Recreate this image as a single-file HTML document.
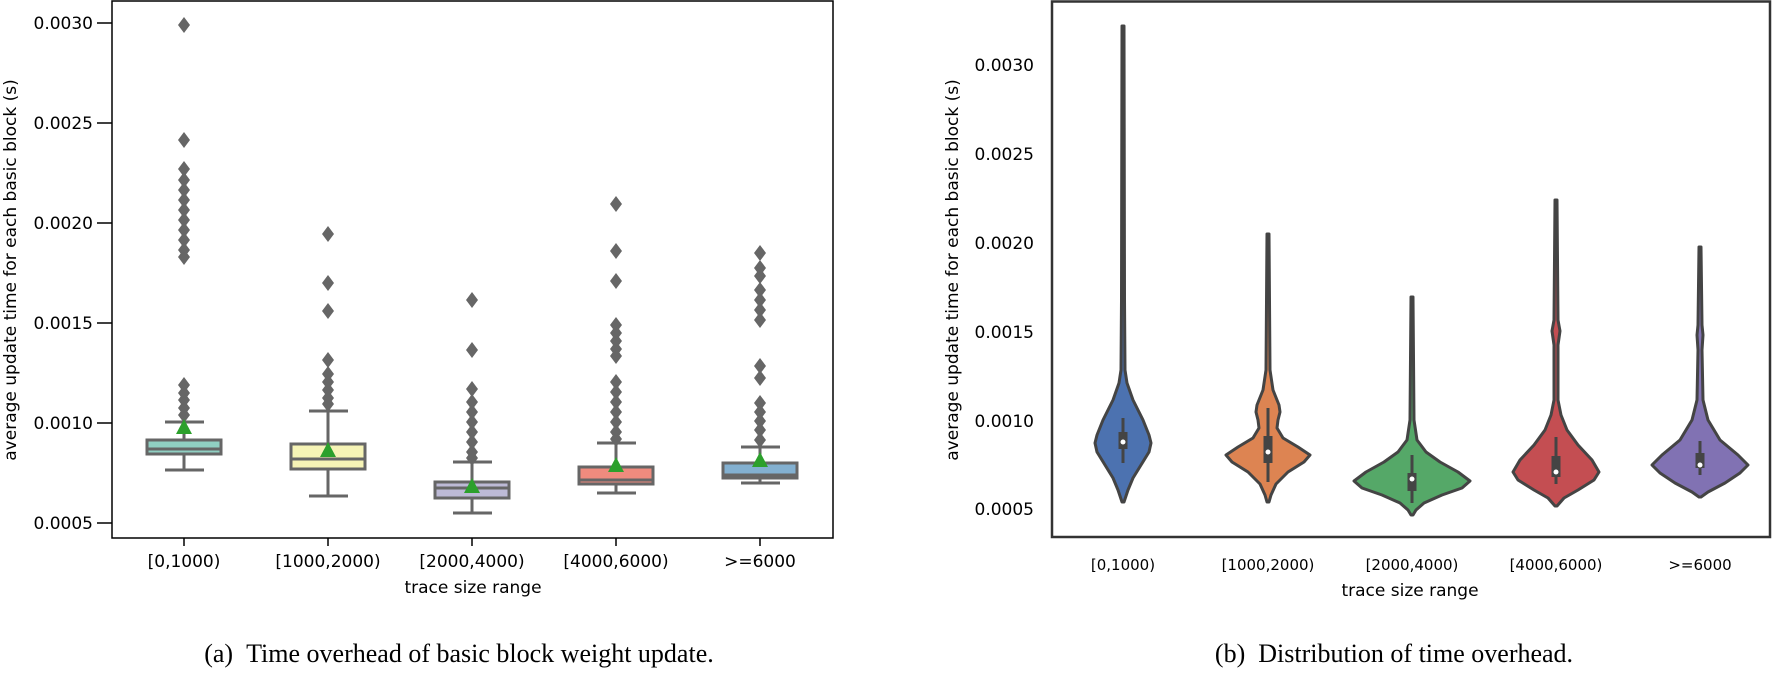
<!DOCTYPE html>
<html><head><meta charset="utf-8"><style>
html,body{margin:0;padding:0;background:#fff;}
svg{display:block;}
.t{font-family:"DejaVu Sans","Liberation Sans",sans-serif;fill:#000;}
.cap{font-family:"Liberation Serif",serif;font-size:26px;fill:#000;}
</style></head><body>
<svg width="1773" height="674" viewBox="0 0 1773 674" xmlns="http://www.w3.org/2000/svg">
<defs>
<path id="d" d="M0,-8 L6,0 L0,8 L-6,0 Z" fill="#666"/>
<path id="m" d="M0,-9 L8,6 L-8,6 Z" fill="#2ca02c"/>
</defs>
<!-- LEFT PLOT -->
<g stroke="#000" stroke-width="1.5">
<line x1="97" y1="23" x2="112" y2="23"/><line x1="97" y1="123" x2="112" y2="123"/>
<line x1="97" y1="223" x2="112" y2="223"/><line x1="97" y1="323" x2="112" y2="323"/>
<line x1="97" y1="423" x2="112" y2="423"/><line x1="97" y1="523" x2="112" y2="523"/>
<line x1="184" y1="538" x2="184" y2="546"/><line x1="328" y1="538" x2="328" y2="546"/>
<line x1="472" y1="538" x2="472" y2="546"/><line x1="616" y1="538" x2="616" y2="546"/>
<line x1="760" y1="538" x2="760" y2="546"/>
</g>
<g class="t" font-size="17" text-anchor="end">
<text x="93" y="29">0.0030</text><text x="93" y="129">0.0025</text><text x="93" y="229">0.0020</text>
<text x="93" y="329">0.0015</text><text x="93" y="429">0.0010</text><text x="93" y="529">0.0005</text>
</g>
<text class="t" font-size="17" transform="translate(16,270) rotate(-90)" text-anchor="middle">average update time for each basic block (s)</text>
<g class="t" font-size="17" text-anchor="middle">
<text x="184" y="567">[0,1000)</text><text x="328" y="567">[1000,2000)</text><text x="472" y="567">[2000,4000)</text>
<text x="616" y="567">[4000,6000)</text><text x="760" y="567">&gt;=6000</text>
<text x="473" y="593">trace size range</text>
</g>
<g>
<use href="#d" x="184" y="25"/><use href="#d" x="184" y="140"/>
<use href="#d" x="184" y="169"/><use href="#d" x="184" y="180"/><use href="#d" x="184" y="190"/><use href="#d" x="184" y="200"/><use href="#d" x="184" y="210"/><use href="#d" x="184" y="220"/><use href="#d" x="184" y="230"/><use href="#d" x="184" y="240"/><use href="#d" x="184" y="250"/><use href="#d" x="184" y="257"/>
<use href="#d" x="184" y="385"/><use href="#d" x="184" y="393"/><use href="#d" x="184" y="400"/><use href="#d" x="184" y="408"/><use href="#d" x="184" y="415"/>
<use href="#d" x="328" y="234"/><use href="#d" x="328" y="283"/><use href="#d" x="328" y="311"/><use href="#d" x="328" y="360"/>
<use href="#d" x="328" y="374"/><use href="#d" x="328" y="382"/><use href="#d" x="328" y="390"/><use href="#d" x="328" y="398"/><use href="#d" x="328" y="404"/>
<use href="#d" x="472" y="300"/><use href="#d" x="472" y="350"/><use href="#d" x="472" y="389"/>
<use href="#d" x="472" y="402"/><use href="#d" x="472" y="412"/><use href="#d" x="472" y="422"/><use href="#d" x="472" y="432"/><use href="#d" x="472" y="442"/><use href="#d" x="472" y="452"/><use href="#d" x="472" y="458"/>
<use href="#d" x="616" y="204"/><use href="#d" x="616" y="251"/><use href="#d" x="616" y="281"/>
<use href="#d" x="616" y="325"/><use href="#d" x="616" y="333"/><use href="#d" x="616" y="341"/><use href="#d" x="616" y="349"/><use href="#d" x="616" y="356"/>
<use href="#d" x="616" y="382"/><use href="#d" x="616" y="392"/><use href="#d" x="616" y="402"/><use href="#d" x="616" y="412"/><use href="#d" x="616" y="422"/><use href="#d" x="616" y="432"/><use href="#d" x="616" y="439"/>
<use href="#d" x="760" y="253"/><use href="#d" x="760" y="268"/><use href="#d" x="760" y="276"/><use href="#d" x="760" y="290"/><use href="#d" x="760" y="300"/><use href="#d" x="760" y="310"/><use href="#d" x="760" y="320"/>
<use href="#d" x="760" y="366"/><use href="#d" x="760" y="378"/>
<use href="#d" x="760" y="403"/><use href="#d" x="760" y="412"/><use href="#d" x="760" y="421"/><use href="#d" x="760" y="430"/><use href="#d" x="760" y="440"/>
</g>
<g stroke="#666" stroke-width="3" fill="none">
<line x1="184" y1="422" x2="184" y2="440"/><line x1="184" y1="454" x2="184" y2="470"/><line x1="165" y1="422" x2="204" y2="422"/><line x1="165" y1="470" x2="204" y2="470"/>
<rect x="147" y="440" width="74" height="14" fill="#90cfc2"/><line x1="147" y1="449" x2="221" y2="449"/>
<line x1="328" y1="411" x2="328" y2="444"/><line x1="328" y1="469" x2="328" y2="496"/><line x1="309" y1="411" x2="348" y2="411"/><line x1="309" y1="496" x2="348" y2="496"/>
<rect x="291" y="444" width="74" height="25" fill="#f6f4b6"/><line x1="291" y1="459" x2="365" y2="459"/>
<line x1="472" y1="462" x2="472" y2="482"/><line x1="472" y1="498" x2="472" y2="513"/><line x1="453" y1="462" x2="492" y2="462"/><line x1="453" y1="513" x2="492" y2="513"/>
<rect x="435" y="482" width="74" height="16" fill="#bdbad6"/><line x1="435" y1="488" x2="509" y2="488"/>
<line x1="616" y1="443" x2="616" y2="467"/><line x1="616" y1="484" x2="616" y2="493"/><line x1="597" y1="443" x2="636" y2="443"/><line x1="597" y1="493" x2="636" y2="493"/>
<rect x="579" y="467" width="74" height="17" fill="#ef8b7e"/><line x1="579" y1="480" x2="653" y2="480"/>
<line x1="760" y1="447" x2="760" y2="463"/><line x1="760" y1="478" x2="760" y2="483"/><line x1="741" y1="447" x2="780" y2="447"/><line x1="741" y1="483" x2="780" y2="483"/>
<rect x="723" y="463" width="74" height="15" fill="#83b0d0"/><line x1="723" y1="475" x2="797" y2="475"/>
</g>
<use href="#m" x="184" y="428"/><use href="#m" x="328" y="451"/><use href="#m" x="472" y="487"/><use href="#m" x="616" y="466"/><use href="#m" x="760" y="461"/>
<rect x="112" y="1" width="721" height="537" fill="none" stroke="#000" stroke-width="1.5"/>

<!-- RIGHT PLOT -->
<g class="t" font-size="17" text-anchor="end" fill="#222">
<text x="1034" y="71">0.0030</text><text x="1034" y="160">0.0025</text><text x="1034" y="249">0.0020</text>
<text x="1034" y="338">0.0015</text><text x="1034" y="427">0.0010</text><text x="1034" y="515">0.0005</text>
</g>
<text class="t" font-size="17" transform="translate(958,270) rotate(-90)" text-anchor="middle">average update time for each basic block (s)</text>
<g class="t" font-size="15" text-anchor="middle">
<text x="1123" y="570">[0,1000)</text><text x="1268" y="570">[1000,2000)</text><text x="1412" y="570">[2000,4000)</text>
<text x="1556" y="570">[4000,6000)</text><text x="1700" y="570">&gt;=6000</text>
<text x="1410" y="596" font-size="17">trace size range</text>
</g>
<g stroke="#444" stroke-width="3" stroke-linejoin="round">
<path fill="#4c72b0" d="M1123,26 L1124,26 L1124.5,300 L1125,370 L1127,383 L1133,400 L1143,420 L1149,435 L1151,443 L1149,452 L1141,465 L1133,478 L1128,490 L1124,502 L1122,502 L1118,490 L1113,478 L1105,465 L1097,452 L1095,443 L1097,435 L1103,420 L1113,400 L1119,383 L1121,370 L1121.5,300 L1122,26 Z"/>
<path fill="#dd8452" d="M1268,234 L1269,234 L1270,370 L1273,390 L1279,405 L1280,412 L1278,420 L1277,428 L1283,438 L1298,447 L1310,455 L1304,462 L1288,472 L1276,484 L1271,495 L1269,502 L1267,502 L1265,495 L1260,484 L1248,472 L1232,462 L1226,455 L1238,447 L1253,438 L1259,428 L1258,420 L1256,412 L1257,405 L1263,390 L1266,370 L1267,234 Z"/>
<path fill="#55a868" d="M1412,297 L1413,297 L1414,420 L1417,440 L1426,452 L1440,462 L1458,472 L1470,481 L1462,488 L1442,495 L1424,503 L1416,510 L1413,515 L1411,515 L1408,510 L1400,503 L1382,495 L1362,488 L1354,481 L1366,472 L1384,462 L1398,452 L1407,440 L1410,420 L1411,297 Z"/>
<path fill="#c44e52" d="M1556,200 L1557,200 L1558,320 L1560,331 L1558,345 L1558,400 L1561,415 L1567,430 L1578,445 L1592,460 L1599,472 L1594,480 L1578,490 L1564,498 L1557,506 L1555,506 L1548,498 L1534,490 L1518,480 L1513,472 L1520,460 L1534,445 L1545,430 L1551,415 L1554,400 L1554,345 L1552,331 L1554,320 L1555,200 Z"/>
<path fill="#8172b3" d="M1700,247 L1701,247 L1702,325 L1703,335 L1702,350 L1703,400 L1708,420 L1720,440 L1738,455 L1748,465 L1740,473 L1725,483 L1708,492 L1701,497 L1699,497 L1692,492 L1675,483 L1660,473 L1652,465 L1662,455 L1680,440 L1692,420 L1697,400 L1698,350 L1697,335 L1698,325 L1699,247 Z"/>
</g>
<g stroke="#444" stroke-linecap="butt">
<line x1="1123" y1="418" x2="1123" y2="463" stroke-width="3"/><line x1="1123" y1="432" x2="1123" y2="449" stroke-width="9"/>
<line x1="1268" y1="408" x2="1268" y2="482" stroke-width="3"/><line x1="1268" y1="436" x2="1268" y2="463" stroke-width="9"/>
<line x1="1412" y1="455" x2="1412" y2="503" stroke-width="3"/><line x1="1412" y1="473" x2="1412" y2="491" stroke-width="9"/>
<line x1="1556" y1="437" x2="1556" y2="484" stroke-width="3"/><line x1="1556" y1="456" x2="1556" y2="477" stroke-width="9"/>
<line x1="1700" y1="441" x2="1700" y2="475" stroke-width="3"/><line x1="1700" y1="453" x2="1700" y2="468" stroke-width="9"/>
</g>
<g fill="#fff">
<circle cx="1123" cy="442" r="2.5"/><circle cx="1268" cy="452" r="2.5"/><circle cx="1412" cy="479" r="2.5"/><circle cx="1556" cy="472" r="2.5"/><circle cx="1700" cy="465" r="2.5"/>
</g>
<rect x="1052" y="1.5" width="718" height="535.5" fill="none" stroke="#333" stroke-width="2.5"/>

<text class="cap" x="459" y="662" text-anchor="middle">(a)&#160;&#160;Time overhead of basic block weight update.</text>
<text class="cap" x="1394" y="662" text-anchor="middle">(b)&#160;&#160;Distribution of time overhead.</text>
</svg>
</body></html>
